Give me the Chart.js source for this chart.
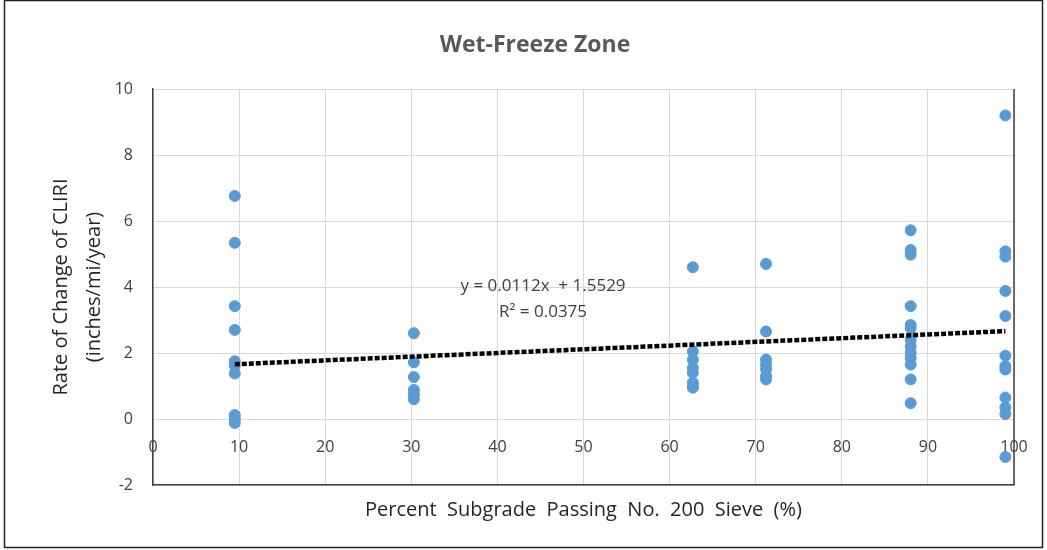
<!DOCTYPE html>
<html lang="en">
<head>
<meta charset="UTF-8">
<title>Wet-Freeze Zone</title>
<script src="https://cdn.jsdelivr.net/npm/chart.js"></script>
<style>
    html, body { margin: 0; padding: 0; background: #fff; }
    .wrap { position: relative; width: 1047px; height: 550px; }
</style>
</head>
<body>
<div class="wrap"><canvas id="scatter" width="1047" height="550"></canvas></div>
<script>
// sieve passing (%) of each test section group
const sieveCols = [9.5, 30.3, 62.7, 71.2, 88.0, 99.0];
// rate of change of CLIRI per group (inches/mi/year)
const rates95 = [6.76, 5.34, 3.42, 2.70, 1.75, 1.62, 1.38, 0.12, 0.0, -0.12];
const rates303 = [2.6, 1.72, 1.27, 0.88, 0.75, 0.6];
const rates627 = [4.6, 2.05, 1.8, 1.55, 1.4, 1.1, 1.0, 0.95];
const rates712 = [4.7, 2.65, 1.8, 1.65, 1.5, 1.3, 1.2];
const rates880 = [5.72, 5.12, 4.98, 3.42, 2.85, 2.75, 2.4, 2.2, 2.0, 1.85, 1.65, 1.2, 0.48];
const rates990 = [9.2, 5.08, 4.92, 3.88, 3.12, 1.92, 1.6, 1.5, 0.65, 0.35, 0.15, -1.15];
const rateGroups = [rates95, rates303, rates627, rates712, rates880, rates990];

const xTicks = [0, 10, 20, 30, 40, 50, 60, 70, 80, 90, 100];
const yTicks = [-2, 0, 2, 4, 6, 8, 10];

const trendSlope = 0.0112;
const trendIntercept = 1.5529;
const trendText = ['y = 0.0112x  + 1.5529', 'R\u00b2 = 0.0375'];
const chartTitle = 'Wet-Freeze Zone';

const points = [];
rateGroups.forEach((g, i) => g.forEach(v => points.push({ x: sieveCols[i], y: v })));
const xLo = Math.min(...sieveCols), xHi = Math.max(...sieveCols);
const trendPts = [
    { x: xLo, y: trendSlope * xLo + trendIntercept },
    { x: xHi, y: trendSlope * xHi + trendIntercept }
];

const fontFam = "'Open Sans', 'Noto Sans', sans-serif";

// frame, title, right edge of plot and the equation label
const extrasPlugin = {
    id: 'extras',
    afterDraw(chart) {
        const { ctx, chartArea: a, scales: { x, y } } = chart;
        ctx.save();
        ctx.strokeStyle = '#404040';
        ctx.lineWidth = 1.5;
        ctx.beginPath();
        ctx.moveTo(a.right, a.top);
        ctx.lineTo(a.right, a.bottom);
        ctx.stroke();
        ctx.strokeStyle = '#222';
        ctx.strokeRect(4.5, 0.5, 1038, 547);

        ctx.textAlign = 'center';
        ctx.textBaseline = 'middle';
        ctx.fillStyle = '#595959';
        ctx.font = 'bold 23px ' + fontFam;
        ctx.fillText(chartTitle, 535, 45);

        ctx.fillStyle = '#404040';
        ctx.font = '17px ' + fontFam;
        ctx.fillText(trendText[0], x.getPixelForValue(45.3), y.getPixelForValue(4.02));
        ctx.fillText(trendText[1], x.getPixelForValue(45.3), y.getPixelForValue(3.24));
        ctx.restore();
    }
};

new Chart(document.getElementById('scatter'), {
    type: 'scatter',
    data: {
        datasets: [
            {
                data: points,
                backgroundColor: '#5B9BD5',
                borderColor: '#5B9BD5',
                pointRadius: 5.5,
                pointHoverRadius: 6,
                order: 2
            },
            {
                type: 'line',
                data: trendPts,
                borderColor: '#000',
                borderWidth: 4.5,
                borderDash: [5, 2],
                pointRadius: 0,
                fill: false,
                order: 1
            }
        ]
    },
    options: {
        responsive: false,
        animation: false,
        devicePixelRatio: 1,
        layout: { padding: { top: 89, left: 0, right: 33, bottom: 0 } },
        plugins: {
            legend: { display: false },
            tooltip: { enabled: false },
            title: { display: false }
        },
        scales: {
            x: {
                type: 'linear',
                min: 0, max: 100,
                afterBuildTicks: s => { s.ticks = xTicks.map(v => ({ value: v })); },
                afterFit: s => { s.height = 65; },
                ticks: { display: false },
                grid: { color: '#d9d9d9', drawTicks: false },
                border: { color: '#404040', width: 1.5 },
                title: {
                    display: true,
                    text: 'Percent  Subgrade  Passing  No.  200  Sieve  (%)',
                    color: '#262626',
                    font: { family: fontFam, size: 20 },
                    padding: { top: 0, bottom: 28 }
                }
            },
            x2: {
                type: 'linear',
                position: { y: 0 },
                axis: 'x',
                min: 0, max: 100,
                afterBuildTicks: s => { s.ticks = xTicks.map(v => ({ value: v })); },
                grid: { display: false, drawTicks: false },
                border: { display: false },
                ticks: {
                    color: '#404040',
                    font: { family: fontFam, size: 16 },
                    padding: 19,
                    maxRotation: 0
                }
            },
            y: {
                type: 'linear',
                min: -2, max: 10,
                afterBuildTicks: s => { s.ticks = yTicks.map(v => ({ value: v })); },
                afterFit: s => { s.width = 153; },
                grid: { color: '#d9d9d9', drawTicks: false },
                border: { color: '#404040', width: 1.5 },
                ticks: {
                    color: '#404040',
                    font: { family: fontFam, size: 16 },
                    padding: 20
                },
                title: {
                    display: true,
                    text: ['Rate of Change of CLIRI', '(inches/mi/year)'],
                    color: '#262626',
                    font: { family: fontFam, size: 20, lineHeight: 1.65 },
                    padding: { top: 45, bottom: 0 }
                }
            }
        }
    },
    plugins: [extrasPlugin]
});
</script>
</body>
</html>
